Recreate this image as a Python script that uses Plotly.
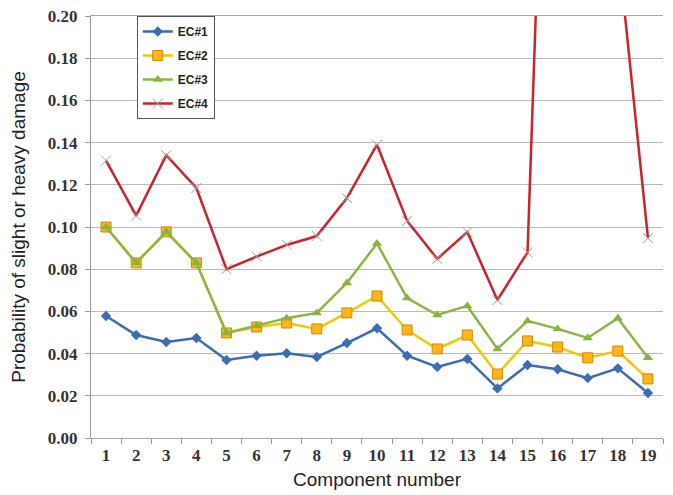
import plotly.graph_objects as go

components = [str(i) for i in range(1, 20)]
series_names = ["EC#1", "EC#2", "EC#3", "EC#4"]
ec1 = [0.0578, 0.0488, 0.0455, 0.0474, 0.0370, 0.0390, 0.0402, 0.0384, 0.0450, 0.0520,
       0.0390, 0.0337, 0.0375, 0.0235, 0.0346, 0.0326, 0.0284, 0.0330, 0.0213]
ec2 = [0.1000, 0.0830, 0.0977, 0.0830, 0.0498, 0.0526, 0.0545, 0.0517, 0.0593, 0.0673,
       0.0512, 0.0422, 0.0488, 0.0303, 0.0460, 0.0431, 0.0380, 0.0412, 0.0280]
ec3 = [0.1000, 0.0830, 0.0977, 0.0830, 0.0498, 0.0532, 0.0568, 0.0593, 0.0735, 0.0922,
       0.0663, 0.0583, 0.0626, 0.0422, 0.0555, 0.0517, 0.0474, 0.0568, 0.0380]
ec4 = [0.1315, 0.1054, 0.1340, 0.1185, 0.0800, 0.0860, 0.0915, 0.0957, 0.1137, 0.1390,
       0.1029, 0.0849, 0.0976, 0.0654, 0.0880, 0.5000, 0.4000, 0.2330, 0.0948]
y_ticks = [0.00, 0.02, 0.04, 0.06, 0.08, 0.10, 0.12, 0.14, 0.16, 0.18, 0.20]

styles = [
    dict(line=dict(color="#3A6DB5", width=2.5),
         marker=dict(symbol="diamond", size=8, color="#3A6DB5")),
    dict(line=dict(color="#F7C600", width=2.5),
         marker=dict(symbol="square", size=10, color="#FFB41A",
                     line=dict(color="#CC8A00", width=1))),
    dict(line=dict(color="#8AB744", width=2.5),
         marker=dict(symbol="triangle-up", size=9, color="#86B33E")),
    dict(line=dict(color="#CC2229", width=2.5),
         marker=dict(symbol="x-thin", size=10, color="#A0A0A0",
                     line=dict(color="#A0A0A0", width=1))),
]

fig = go.Figure()
for name, vals, st in zip(series_names, [ec1, ec2, ec3, ec4], styles):
    fig.add_trace(go.Scatter(x=components, y=vals, name=name, mode="lines+markers",
                             legendgroup=name, **st))

tick_font = dict(family="Liberation Serif, Times New Roman", size=17,
                 color="#333333", weight="bold")
title_font = dict(family="Liberation Sans, Arial", size=19, color="#222222")

fig.update_layout(
    width=665, height=487,
    margin=dict(l=83, r=10, t=8, b=57),
    paper_bgcolor="white", plot_bgcolor="white",
    showlegend=True,
    legend=dict(x=0.08, y=1.0, xanchor="left", yanchor="top",
                bgcolor="white", bordercolor="#555555", borderwidth=1,
                font=dict(family="Liberation Sans, Arial", size=12, color="#222222", weight="bold"),
                tracegroupgap=5),
    xaxis=dict(type="category", range=[-0.5, len(components) - 0.5],
               tickson="boundaries", ticks="outside", ticklen=5,
               tickcolor="#999999", showline=True, linecolor="#A8A8A8", linewidth=1,
               mirror=True,
               showgrid=False, automargin=False, tickfont=tick_font, tickangle=0,
               ticklabelstandoff=2,
               title=dict(text="Component number", standoff=8, font=title_font)),
    yaxis=dict(range=[0, 0.20], tickvals=y_ticks, tickformat=".2f", ticks="outside",
               ticklen=5, tickcolor="#999999", showline=True, linecolor="#999999", linewidth=1,
               showgrid=True, gridcolor="#BBBBBB", gridwidth=1, zeroline=False,
               automargin=False, tickfont=tick_font, ticklabelstandoff=4,
               ticklabeloverflow="allow",
               title=dict(text="Probability of slight or heavy damage", standoff=17,
                          font=title_font)),
)

fig.write_html("out.html")
